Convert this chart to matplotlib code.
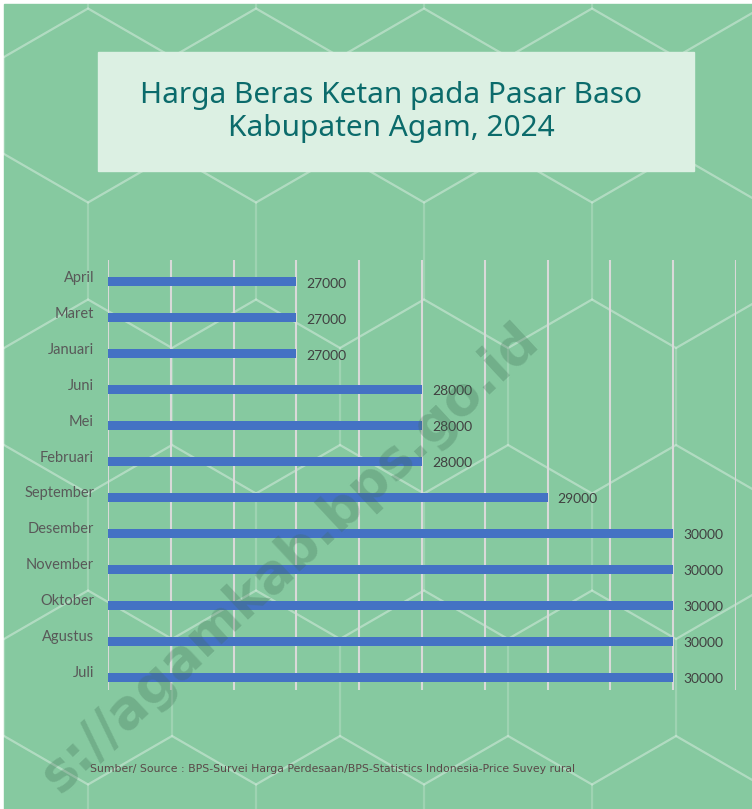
import numpy as np
import matplotlib
matplotlib.use('agg')
from matplotlib import pyplot as plt
from matplotlib.patches import Rectangle

months = ["April", "Maret", "Januari", "Juni", "Mei", "Februari", "September",
          "Desember", "November", "Oktober", "Agustus", "Juli"]
harga = [27000, 27000, 27000, 28000, 28000, 28000, 29000,
         30000, 30000, 30000, 30000, 30000]
judul = "Harga Beras Ketan pada Pasar Baso\nKabupaten Agam, 2024"
sumber = "Sumber/ Source : BPS-Survei Harga Perdesaan/BPS-Statistics Indonesia-Price Suvey rural"
watermark = "s://agamkab.bps.go.id"

W, H = 752, 809
bg = '#86c9a0'
fig = plt.figure(figsize=(W / 100, H / 100), dpi=100)
fig.patch.set_facecolor('white')

# background layer in pixel coordinates
deco = fig.add_axes([0, 0, 1, 1])
deco.axis('off')
deco.add_patch(Rectangle((4, 4), W - 4, H - 4, color=bg, zorder=0))

# hexagon pattern
s = 97.0
w = s * np.sqrt(3)
ang = np.deg2rad(np.arange(30, 390, 60))
for r in range(-1, 8):
    for c in range(-1, 7):
        cx = 4 + c * w + (w / 2 if r % 2 else 0)
        cy = -40 + r * 1.5 * s
        hx = cx + s * np.cos(ang)
        hy = cy + s * np.sin(ang)
        deco.plot(hx, hy, color='white', alpha=0.2, lw=1.6, zorder=1)
deco.set_xlim(0, W)
deco.set_ylim(H, 0)

# title box
deco.add_patch(Rectangle((98, 52), 596, 119, color='#dcf0e3', zorder=2))
deco.text(391, 112, judul, ha='center', va='center', fontsize=21.5,
          color='#0b6b6b', family='Noto Sans', linespacing=1.15, zorder=3)

deco.text(90, 769, sumber, ha='left', va='center', fontsize=7.8,
          color='#5a4848', family='DejaVu Sans', zorder=3)

# bar chart
ax = fig.add_axes([108 / W, 1 - 690 / H, (736 - 108) / W, (690 - 260) / H])
ax.set_facecolor('none')
y = np.arange(len(months))
ax.barh(y, [v - 25500 for v in harga], left=25500, height=0.25,
        color='#4472c4', zorder=3)
ax.set_xlim(25500, 30500)
ax.set_ylim(len(months) - 1 + 0.36, -0.61)
ax.set_xticks(np.arange(25500, 30501, 500))
ax.xaxis.grid(True, color='#d9d9d9', lw=1.5, zorder=0)
ax.tick_params(axis='x', length=0, labelbottom=False)
ax.tick_params(axis='y', length=0, pad=10)
ax.set_yticks(y)
ax.set_yticklabels(months, fontsize=10.5, color='#595959', family='Lato',
                   va='baseline')
for sp in ax.spines.values():
    sp.set_visible(False)
for yi, v in zip(y, harga):
    ax.text(v + 80, yi + 0.05, str(v), va='center', ha='left', fontsize=10,
            color='#404040', family='Lato', zorder=4)

# watermark
fig.text(0.385, 0.31, watermark, rotation=43, ha='center', va='center',
         fontsize=38, fontweight='bold', color='#3d6b52', alpha=0.28,
         family='DejaVu Sans')

fig.savefig('out.png', dpi=100, facecolor=fig.get_facecolor())
